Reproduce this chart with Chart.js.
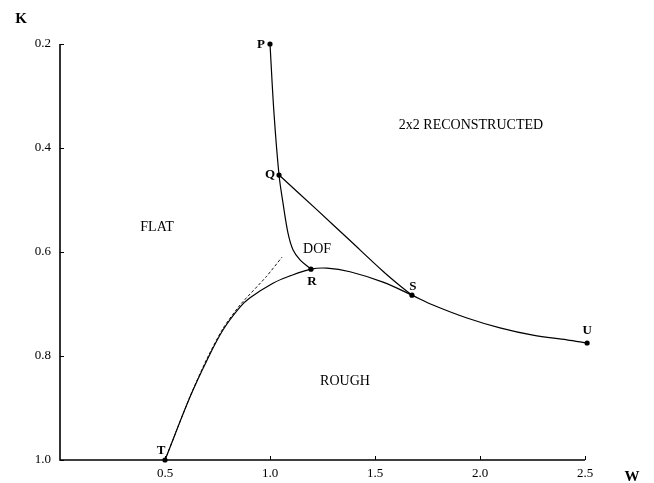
<!DOCTYPE html>
<html>
<head>
<meta charset="utf-8">
<script src="https://cdn.jsdelivr.net/npm/chart.js@4.4.1/dist/chart.umd.min.js"></script>
<style>
  html, body { margin: 0; padding: 0; background: #fff; }
  canvas { display: block; }
</style>
</head>
<body>
<canvas id="c" width="654" height="483"></canvas>
<script>
// ---- data ----
const xTicks = [0.5, 1.0, 1.5, 2.0, 2.5];
const yTicks = [0.2, 0.4, 0.6, 0.8, 1.0];

// curve P -> Q -> R
const pqrW = [1.0, 1.019, 1.043, 1.062, 1.086, 1.110, 1.143, 1.195];
const pqrK = [0.2, 0.333, 0.452, 0.506, 0.564, 0.596, 0.615, 0.633];

// curve Q -> S
const qsW = [1.043, 1.224, 1.381, 1.538, 1.619, 1.676];
const qsK = [0.452, 0.519, 0.578, 0.637, 0.665, 0.683];

// curve T -> R -> S -> U
const truW = [0.5, 0.619, 0.700, 0.776, 0.857, 0.905, 1.014, 1.095, 1.195, 1.271, 1.381, 1.538, 1.676, 1.776, 1.938, 2.095, 2.252, 2.414, 2.51];
const truK = [1.0, 0.879, 0.808, 0.750, 0.706, 0.688, 0.660, 0.646, 0.633, 0.631, 0.638, 0.658, 0.683, 0.702, 0.727, 0.746, 0.760, 0.769, 0.775];

// dashed line from T
const dashW = [0.5, 0.62, 0.70, 0.776, 0.857, 0.981, 1.057];
const dashK = [1.0, 0.877, 0.805, 0.747, 0.702, 0.648, 0.610];

// marked points
const ptNames = ['P', 'Q', 'R', 'S', 'T', 'U'];
const ptW = [1.0, 1.043, 1.195, 1.676, 0.5, 2.51];
const ptK = [0.2, 0.452, 0.633, 0.683, 1.0, 0.775];

// region labels
const regionNames = ['2x2 RECONSTRUCTED', 'FLAT', 'DOF', 'ROUGH'];
const regionW = [1.957, 0.462, 1.224, 1.357];
const regionK = [0.356, 0.552, 0.594, 0.848];

const xTitle = 'W';
const yTitle = 'K';

// ---- build ----
const zip = (xs, ys) => xs.map((x, i) => ({ x: x, y: ys[i] }));
const SERIF = '"Liberation Serif", "DejaVu Serif", serif';

// pixel offsets of point labels relative to their dots (layout only)
const ptLabelOffset = { P: [-9, 1], Q: [-9, 0], R: [1, 12], S: [1, -9], T: [-4, -9], U: [0, -12] };

const decoPlugin = {
  id: 'deco',
  afterDatasetsDraw(chart) {
    const ctx = chart.ctx;
    const xs = chart.scales.x, ys = chart.scales.y;
    const ca = chart.chartArea;
    ctx.save();
    // axis lines
    ctx.strokeStyle = '#000';
    ctx.lineWidth = 1.6;
    ctx.beginPath();
    ctx.moveTo(ca.left, ys.getPixelForValue(0.2));
    ctx.lineTo(ca.left, ys.getPixelForValue(1.0));
    ctx.lineTo(xs.getPixelForValue(2.5), ys.getPixelForValue(1.0));
    ctx.stroke();
    // inward tick marks
    ctx.lineWidth = 1;
    ctx.beginPath();
    xTicks.forEach(v => {
      const px = Math.round(xs.getPixelForValue(v)) + 0.5;
      ctx.moveTo(px, ca.bottom);
      ctx.lineTo(px, ca.bottom - 4);
    });
    yTicks.forEach(v => {
      const py = Math.round(ys.getPixelForValue(v)) + 0.5;
      ctx.moveTo(ca.left, py);
      ctx.lineTo(ca.left + 4, py);
    });
    ctx.stroke();

    // point labels
    ctx.fillStyle = '#000';
    ctx.textAlign = 'center';
    ctx.textBaseline = 'middle';
    ctx.font = 'bold 13px ' + SERIF;
    ptNames.forEach((n, i) => {
      const o = ptLabelOffset[n];
      ctx.fillText(n, xs.getPixelForValue(ptW[i]) + o[0], ys.getPixelForValue(ptK[i]) + o[1]);
    });

    // region labels
    ctx.font = '14px ' + SERIF;
    regionNames.forEach((n, i) => {
      ctx.fillText(n, xs.getPixelForValue(regionW[i]), ys.getPixelForValue(regionK[i]));
    });

    // axis titles
    ctx.font = 'bold 15px ' + SERIF;
    ctx.fillText(yTitle, ca.left - 39, ca.top - 25);
    ctx.fillText(xTitle, ca.right + 47, ca.bottom + 17);
    ctx.restore();
  }
};

const bgPlugin = {
  id: 'bg',
  beforeDraw(chart) {
    const ctx = chart.ctx;
    ctx.save();
    ctx.fillStyle = '#fff';
    ctx.fillRect(0, 0, chart.width, chart.height);
    ctx.restore();
  }
};

const lineDs = (data, extra) => Object.assign({
  data: data,
  showLine: true,
  borderColor: '#000',
  borderWidth: 1.2,
  pointRadius: 0,
  pointHoverRadius: 0,
  tension: 0.35,
  fill: false,
  clip: false
}, extra || {});

new Chart(document.getElementById('c'), {
  type: 'scatter',
  data: {
    datasets: [
      lineDs(zip(pqrW, pqrK)),
      lineDs(zip(qsW, qsK)),
      lineDs(zip(truW, truK)),
      lineDs(zip(dashW, dashK), { borderWidth: 0.9, borderDash: [3, 2], tension: 0.2 }),
      {
        data: zip(ptW, ptK),
        showLine: false,
        pointRadius: 2.6,
        pointBackgroundColor: '#000',
        pointBorderColor: '#000',
        pointBorderWidth: 0,
        clip: false
      }
    ]
  },
  options: {
    responsive: false,
    animation: false,
    events: [],
    layout: { padding: { top: 44, right: 69, left: 0, bottom: 0 } },
    plugins: { legend: { display: false }, tooltip: { enabled: false } },
    scales: {
      x: {
        type: 'linear',
        min: 0, max: 2.5,
        afterBuildTicks: s => { s.ticks = xTicks.map(v => ({ value: v })); },
        afterFit: s => { s.height = 23; },
        grid: { display: false, drawTicks: false },
        border: { display: false },
        ticks: {
          padding: 6,
          color: '#000',
          font: { family: SERIF, size: 13 },
          callback: v => Number(v).toFixed(1),
          maxRotation: 0,
          autoSkip: false
        }
      },
      y: {
        type: 'linear',
        reverse: true,
        min: 0.2, max: 1.0,
        afterBuildTicks: s => { s.ticks = yTicks.map(v => ({ value: v })); },
        afterFit: s => { s.width = 60; },
        grid: { display: false, drawTicks: false },
        border: { display: false },
        ticks: {
          padding: 9,
          color: '#000',
          font: { family: SERIF, size: 13 },
          callback: v => Number(v).toFixed(1),
          autoSkip: false
        }
      }
    }
  },
  plugins: [bgPlugin, decoPlugin]
});
</script>
</body>
</html>
